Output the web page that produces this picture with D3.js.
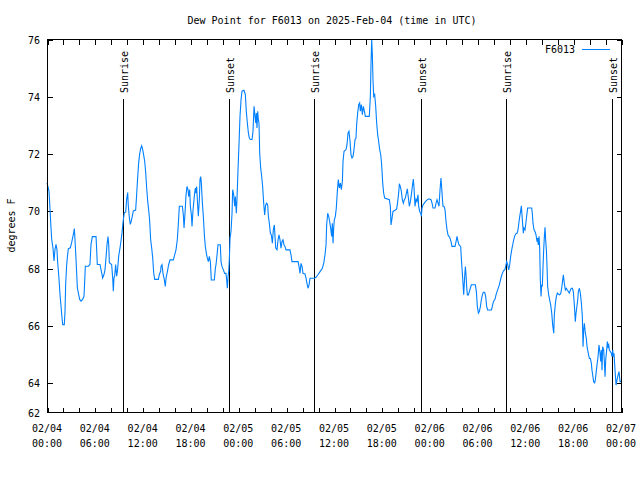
<!DOCTYPE html>
<html>
<head>
<meta charset="utf-8">
<script src="https://cdn.jsdelivr.net/npm/d3@7"></script>
<style>
  html, body { margin: 0; padding: 0; background: #fff; }
  svg { display: block; }
  text { font-family: "DejaVu Sans Mono", "Liberation Mono", monospace; font-size: 10px; fill: #000; }
</style>
</head>
<body>
<svg id="chart" width="640" height="480"></svg>
<script>
// ---------------- data ----------------
const title = "Dew Point for F6013 on 2025-Feb-04 (time in UTC)";
const yAxisTitle = "degrees F";
const seriesName = "F6013";

// x axis: hours since 02/04 00:00 UTC
const xDomain = [0, 72];
const xTickHours = [0, 6, 12, 18, 24, 30, 36, 42, 48, 54, 60, 66, 72];
const xTickDates = ["02/04", "02/04", "02/04", "02/04", "02/05", "02/05", "02/05", "02/05", "02/06", "02/06", "02/06", "02/06", "02/07"];
const xTickTimes = ["00:00", "06:00", "12:00", "18:00", "00:00", "06:00", "12:00", "18:00", "00:00", "06:00", "12:00", "18:00", "00:00"];
const xMinorStep = 2;

// y axis
const yDomain = [62.98, 76];
const yTicks = [64, 66, 68, 70, 72, 74, 76];
const yBottomLabel = "62";

// sunrise / sunset markers (hours since 02/04 00:00 UTC)
const sunLabels = ["Sunrise", "Sunset", "Sunrise", "Sunset", "Sunrise", "Sunset"];
const sunHours = [9.57, 22.87, 33.53, 46.96, 57.6, 70.92];

// dew point series: [hours since start, degrees F]
const dewPoint = [
[0,70.98],[0.25,70.69],[0.38,70.05],[0.5,69.41],[0.59,69.0],[0.75,68.71],[0.88,68.25],[1.0,68.65],[1.13,68.83],[1.25,68.65],[1.34,68.19],[1.5,67.66],[1.63,67.08],[1.76,66.67],[1.88,66.27],[1.97,66.03],[2.17,66.03],[2.26,66.5],[2.34,67.43],[2.47,68.13],[2.59,68.48],[2.68,68.68],[2.93,68.71],[3.09,68.89],[3.26,69.12],[3.35,69.24],[3.43,69.38],[3.51,69.0],[3.64,68.31],[3.81,67.31],[3.93,67.14],[4.1,66.91],[4.27,66.85],[4.47,66.91],[4.64,67.02],[4.73,67.55],[4.81,68.07],[5.19,68.07],[5.39,68.13],[5.52,68.83],[5.69,69.1],[6.15,69.1],[6.23,68.65],[6.31,68.13],[6.65,68.13],[6.73,68.01],[6.86,67.84],[6.98,67.66],[7.15,67.78],[7.28,67.96],[7.4,68.36],[7.53,68.83],[7.65,69.1],[7.74,68.83],[7.82,68.19],[8.11,68.13],[8.24,67.66],[8.32,67.2],[8.4,67.66],[8.49,67.72],[8.61,68.13],[8.74,67.72],[8.86,67.96],[8.99,68.42],[9.16,68.71],[9.28,68.95],[9.41,69.24],[9.49,69.47],[9.58,69.7],[9.7,69.94],[9.87,69.96],[9.99,70.4],[10.12,70.64],[10.2,70.17],[10.33,69.76],[10.45,69.53],[10.58,69.65],[10.7,69.82],[10.83,70.0],[11.12,70.03],[11.25,70.58],[11.37,71.16],[11.5,71.69],[11.62,71.98],[11.75,72.17],[11.88,72.27],[12.0,72.15],[12.13,71.94],[12.25,71.74],[12.38,71.34],[12.5,70.81],[12.63,70.34],[12.75,70.05],[12.88,69.65],[13.0,69.0],[13.13,68.71],[13.26,68.36],[13.38,67.84],[13.51,67.61],[13.97,67.61],[14.09,67.78],[14.26,67.9],
[14.3,68.06],[14.43,68.12],[14.55,67.82],[14.72,67.59],[14.84,67.36],[14.93,67.65],[15.1,67.88],[15.26,68.12],[15.43,68.29],[15.85,68.29],[16.02,68.47],[16.18,68.64],[16.35,69.01],[16.48,69.57],[16.6,70.16],[16.98,70.16],[17.1,69.86],[17.19,69.4],[17.31,69.92],[17.44,70.56],[17.56,70.85],[17.69,70.74],[17.77,70.5],[17.9,70.74],[17.98,70.16],[18.11,69.86],[18.19,69.46],[18.32,70.04],[18.4,70.27],[18.52,70.62],[18.61,70.8],[18.69,70.62],[18.77,70.85],[18.86,70.39],[18.98,69.81],[19.11,70.39],[19.19,71.09],[19.28,71.2],[19.36,70.97],[19.49,70.27],[19.61,69.81],[19.74,69.16],[19.86,68.76],[19.99,68.52],[20.11,68.35],[20.24,68.23],[20.36,68.41],[20.49,68.23],[20.61,67.59],[20.99,67.59],[21.12,68.0],[21.2,68.12],[21.33,68.47],[21.45,68.82],[21.74,68.82],[21.83,68.23],[21.95,68.06],[22.12,67.94],[22.29,67.82],[22.45,67.82],[22.54,67.59],[22.62,67.3],[22.71,67.71],[22.79,67.88],[22.87,68.29],[22.96,69.05],[23.08,69.28],[23.21,69.92],[23.29,70.74],[23.42,70.56],[23.54,70.16],[23.63,70.5],[23.75,69.92],[23.83,70.39],[23.96,71.44],[24.09,72.37],[24.21,73.3],[24.34,73.88],[24.46,74.18],[24.71,74.21],[24.88,74.06],[25.0,73.48],[25.13,73.07],[25.26,72.72],[25.38,72.54],[25.51,72.49],[25.72,72.49],[25.84,72.78],[25.97,73.65],[26.09,73.3],[26.18,73.07],[26.26,73.42],[26.34,72.89],[26.43,73.48],[26.51,73.19],[26.59,73.07],[26.68,72.02],[26.8,71.5],[26.93,71.2],[27.05,70.85],[27.18,70.27],[27.3,69.86],[27.43,70.21],[27.56,70.27],[27.68,70.21],[27.77,69.81],[27.89,69.57],[28.02,69.22],[28.14,69.16],[28.27,68.87],[28.39,69.34],[28.52,69.51],[28.6,69.11],[28.69,68.7],
[28.85,68.64],[28.98,68.99],[29.1,69.16],[29.23,68.99],[29.35,68.7],[29.48,68.93],[29.6,68.99],[29.73,68.81],[29.85,68.76],[29.98,68.64],[30.48,68.64],[30.61,68.46],[30.73,68.23],[31.49,68.23],[31.61,68.06],[31.74,67.82],[31.86,68.17],[31.99,68.06],[32.11,67.82],[32.36,67.8],[32.49,67.65],[32.61,67.47],[32.74,67.3],[32.87,67.42],[32.99,67.65],[33.54,67.65],[33.74,67.68],[33.99,67.77],[34.25,67.88],
[34.54,68.0],[34.71,68.17],[34.87,68.46],[35.0,68.81],[35.08,69.51],[35.21,69.92],[35.33,69.81],[35.46,69.63],[35.58,69.4],[35.71,69.11],[35.79,69.57],[35.88,68.87],[35.96,69.4],[36.04,69.69],[36.17,69.81],[36.29,70.1],[36.42,70.68],[36.54,71.09],[36.67,70.8],[36.8,70.97],[36.92,70.74],[37.05,71.03],[37.13,71.73],[37.26,72.08],[37.51,72.14],[37.63,72.31],[37.76,72.72],[37.88,72.78],[38.01,72.43],[38.13,71.96],[38.26,71.85],[38.38,71.9],[38.51,72.14],[38.64,72.49],[38.76,72.54],[38.84,73.01],[38.97,73.42],[39.1,73.71],[39.22,73.77],[39.3,73.48],[39.43,73.71],[39.56,73.36],[39.68,73.65],[39.81,73.48],[39.93,73.3],[40.43,73.3],[40.56,74.0],[40.64,75.11],[40.73,75.98],[40.81,75.46],[40.89,74.58],[40.98,74.0],[41.1,74.06],[41.23,73.65],[41.35,73.07],[41.48,72.66],[41.6,72.43],[41.73,72.14],[41.86,71.96],[41.98,71.61],[42.11,70.97],[42.23,70.62],[42.36,70.45],[42.94,70.39],[43.07,70.16],[43.15,69.51],
[43.28,69.75],[43.4,69.98],[43.65,70.02],[43.86,70.06],[43.99,70.33],[44.11,70.62],[44.2,70.95],[44.32,70.85],[44.45,70.68],[44.57,70.39],[44.7,70.27],[44.82,70.39],[44.95,70.45],[45.08,70.62],[45.2,70.77],[45.33,70.45],[45.45,70.16],[45.58,70.33],[45.7,70.56],[45.83,70.85],[45.95,71.11],[46.04,70.8],[46.16,70.16],[46.29,70.41],[46.41,70.33],[46.54,70.56],[46.62,70.16],[46.75,69.98],[46.87,69.92],[46.96,69.81],[47.04,70.1],[47.17,70.21],[47.33,70.27],[47.5,70.33],[47.71,70.39],[47.92,70.42],[48.17,70.39],[48.3,70.27],[48.42,70.1],[48.67,70.1],[48.8,70.27],[48.92,70.39],[49.05,70.27],[49.17,70.16],[49.3,70.74],[49.42,71.15],[49.55,70.62],[49.67,70.16],[49.8,70.16],[49.93,70.04],[50.05,69.63],[50.18,69.34],[50.3,69.16],[50.43,69.11],[50.55,69.05],[50.68,68.93],[50.8,68.76],[51.18,68.76],[51.31,68.93],[51.43,69.11],[51.56,68.93],[51.68,68.81],[51.89,68.76],[51.97,68.35],[52.1,67.82],[52.18,67.47],[52.27,67.07],[52.39,67.71],[52.48,68.06],[52.56,67.77],[52.64,67.36],[52.73,67.07],[52.85,67.07],[52.98,67.18],[53.1,67.3],[53.23,67.42],[53.73,67.42],[53.86,67.18],[53.98,66.66],[54.11,66.43],[54.23,66.49],[54.36,66.66],[54.48,66.89],[54.61,67.07],[54.73,67.16],[54.9,67.16],[55.03,67.01],[55.15,66.66],[55.28,66.54],[55.74,66.54],[55.86,66.66],[55.99,66.83],[56.2,66.92],[56.32,67.07],[56.45,67.18],[56.57,67.28],[56.7,67.38],[56.83,67.53],[56.99,67.71],[57.12,67.82],[57.28,67.92],[57.45,67.96],
[57.66,68.23],[57.79,68.12],[57.91,67.94],[58.04,68.12],[58.16,68.41],[58.29,68.64],[58.41,68.81],[58.54,68.99],[58.66,69.11],[58.79,69.2],[58.96,69.22],[59.08,69.34],[59.21,69.63],[59.33,69.86],[59.42,70.02],[59.5,70.18],[59.58,69.86],[59.67,69.52],[59.75,69.22],[59.83,69.4],[59.96,69.34],[60.09,69.63],[60.21,69.92],[60.29,70.1],[60.8,70.1],[60.88,69.9],[60.96,69.57],[61.09,69.34],[61.21,69.28],[61.34,69.16],[61.47,68.93],[61.55,69.05],[61.63,68.81],[61.72,69.11],[61.8,68.7],[61.88,67.59],[61.97,67.01],[62.05,67.42],[62.13,67.36],[62.22,68.06],[62.3,68.64],[62.39,69.11],[62.47,69.43],[62.55,68.99],[62.64,68.64],[62.72,68.06],[62.8,67.36],[62.93,67.07],[63.05,66.89],[63.18,66.72],[63.31,66.43],[63.43,66.02],[63.56,65.73],[63.64,66.37],[63.77,66.78],[63.89,67.01],[64.02,67.13],[64.14,67.1],[64.27,67.07],[64.43,67.1],[64.56,67.3],[64.69,67.59],[64.77,67.77],[64.89,67.47],[65.02,67.24],[65.15,67.3],[65.27,67.24],[65.4,67.18],[65.52,67.13],[65.65,67.24],[65.77,67.3],[65.9,67.3],[66.02,67.18],[66.15,66.72],[66.27,66.13],[66.36,66.43],[66.44,66.6],[66.57,66.89],[66.65,67.18],[66.78,67.3],[66.9,67.13],[67.03,66.78],[67.15,66.31],[67.24,65.26],[67.32,65.84],[67.4,66.08],[67.53,65.73],[67.65,65.55],[67.74,65.26],[67.82,65.14],[67.9,65.03],[68.03,64.85],[68.16,64.85],[68.28,64.68],[68.36,64.44],[68.45,64.27],[68.57,64.04],[68.7,64.0],[68.78,64.1],[68.87,64.33],[68.99,64.62],[69.12,64.91],[69.24,65.32],[69.37,65.03],[69.45,64.74],[69.54,65.14],[69.62,64.44],[69.7,65.26],[69.83,65.14],[69.91,64.74],[70.0,64.21],[70.08,64.79],[70.2,65.14],[70.29,65.44],[70.37,65.26],[70.46,65.32],[70.54,65.14],[70.66,65.09],[70.79,65.03],[70.87,64.91],[70.96,65.14],[71.04,64.91],[71.12,65.03],[71.25,64.44],[71.38,63.92],[71.5,64.1],[71.63,64.27],[71.75,64.39],[71.88,64.04],[72.0,64.04]
];

// ---------------- chart ----------------
const W = 640, H = 480;
const margin = { top: 39, right: 19, bottom: 68, left: 47 };
const svg = d3.select("#chart");
svg.append("rect").attr("width", W).attr("height", H).attr("fill", "#fff");

const x = d3.scaleLinear().domain(xDomain).range([margin.left, W - margin.right]);
const y = d3.scaleLinear().domain(yDomain).range([H - margin.bottom, margin.top]);

const tickLen = 5;
const minorHours = d3.range(xDomain[0], xDomain[1] + 0.001, xMinorStep);

// bottom axis (ticks inward)
const gB = svg.append("g").attr("transform", `translate(0.5,${y.range()[0] + 0.5})`)
  .call(d3.axisBottom(x).tickValues(minorHours).tickSize(-tickLen).tickFormat(""));
// top axis
const gT = svg.append("g").attr("transform", `translate(0.5,${y.range()[1] + 0.5})`)
  .call(d3.axisTop(x).tickValues(minorHours).tickSize(-tickLen).tickFormat(""));
// left axis
const gL = svg.append("g").attr("transform", `translate(${x.range()[0] + 0.5},0.5)`)
  .call(d3.axisLeft(y).tickValues(yTicks).tickSize(-tickLen).tickFormat(""));
// right axis
const gR = svg.append("g").attr("transform", `translate(${x.range()[1] + 0.5},0.5)`)
  .call(d3.axisRight(y).tickValues(yTicks).tickSize(-tickLen).tickFormat(""));
[gB, gT, gL, gR].forEach(g => {
  g.select(".domain").remove();
  g.selectAll("line").attr("stroke", "#000").attr("shape-rendering", "crispEdges");
});

// x tick labels (two lines)
const xl = svg.append("g");
xTickHours.forEach((h, i) => {
  const t = xl.append("text").attr("text-anchor", "middle")
    .attr("x", x(h)).attr("y", y.range()[0] + 20);
  t.append("tspan").attr("x", x(h)).text(xTickDates[i]);
  t.append("tspan").attr("x", x(h)).attr("dy", 15).text(xTickTimes[i]);
});

// y tick labels
const yl = svg.append("g");
yTicks.forEach(v => {
  yl.append("text").attr("text-anchor", "end").attr("dominant-baseline", "central")
    .attr("x", x.range()[0] - 7).attr("y", y(v) + 1).text(String(v));
});
yl.append("text").attr("text-anchor", "end").attr("dominant-baseline", "central")
  .attr("x", x.range()[0] - 7).attr("y", y(yDomain[0]) + 1).text(yBottomLabel);

// sunrise / sunset lines
const sun = svg.append("g");
sunHours.forEach((h, i) => {
  const sx = Math.round(x(h)) + 0.5;
  sun.append("line").attr("x1", sx).attr("x2", sx)
    .attr("y1", y.range()[1] + 60).attr("y2", y.range()[0])
    .attr("stroke", "#000").attr("stroke-width", 1).attr("shape-rendering", "crispEdges");
  sun.append("text").attr("text-anchor", "start").attr("dominant-baseline", "central")
    .attr("transform", `translate(${sx + 1},${y.range()[1] + 54}) rotate(-90)`)
    .text(sunLabels[i]);
});

// data line
const line = d3.line().x(d => x(d[0])).y(d => y(d[1]));
svg.append("path").datum(dewPoint)
  .attr("fill", "none").attr("stroke", "#0080ff").attr("stroke-width", 1.1)
  .attr("stroke-linejoin", "miter")
  .attr("d", line);

// border
svg.append("rect")
  .attr("x", x.range()[0] + 0.5).attr("y", y.range()[1] + 0.5)
  .attr("width", x.range()[1] - x.range()[0]).attr("height", y.range()[0] - y.range()[1])
  .attr("fill", "none").attr("stroke", "#000").attr("shape-rendering", "crispEdges");

// legend
const legY = y.range()[1] + 10;
svg.append("text").attr("text-anchor", "end").attr("dominant-baseline", "central")
  .attr("x", x.range()[1] - 46).attr("y", legY).text(seriesName);
svg.append("line").attr("x1", x.range()[1] - 39).attr("x2", x.range()[1] - 11)
  .attr("y1", legY + 0.5).attr("y2", legY + 0.5)
  .attr("stroke", "#0080ff").attr("stroke-width", 1).attr("shape-rendering", "crispEdges");

// title
svg.append("text").attr("text-anchor", "middle").attr("dominant-baseline", "central")
  .attr("x", 332).attr("y", 20).text(title);

// y axis title
svg.append("text").attr("text-anchor", "middle").attr("dominant-baseline", "central")
  .attr("transform", `translate(11,${(y.range()[0] + y.range()[1]) / 2}) rotate(-90)`)
  .text(yAxisTitle);
</script>
</body>
</html>
